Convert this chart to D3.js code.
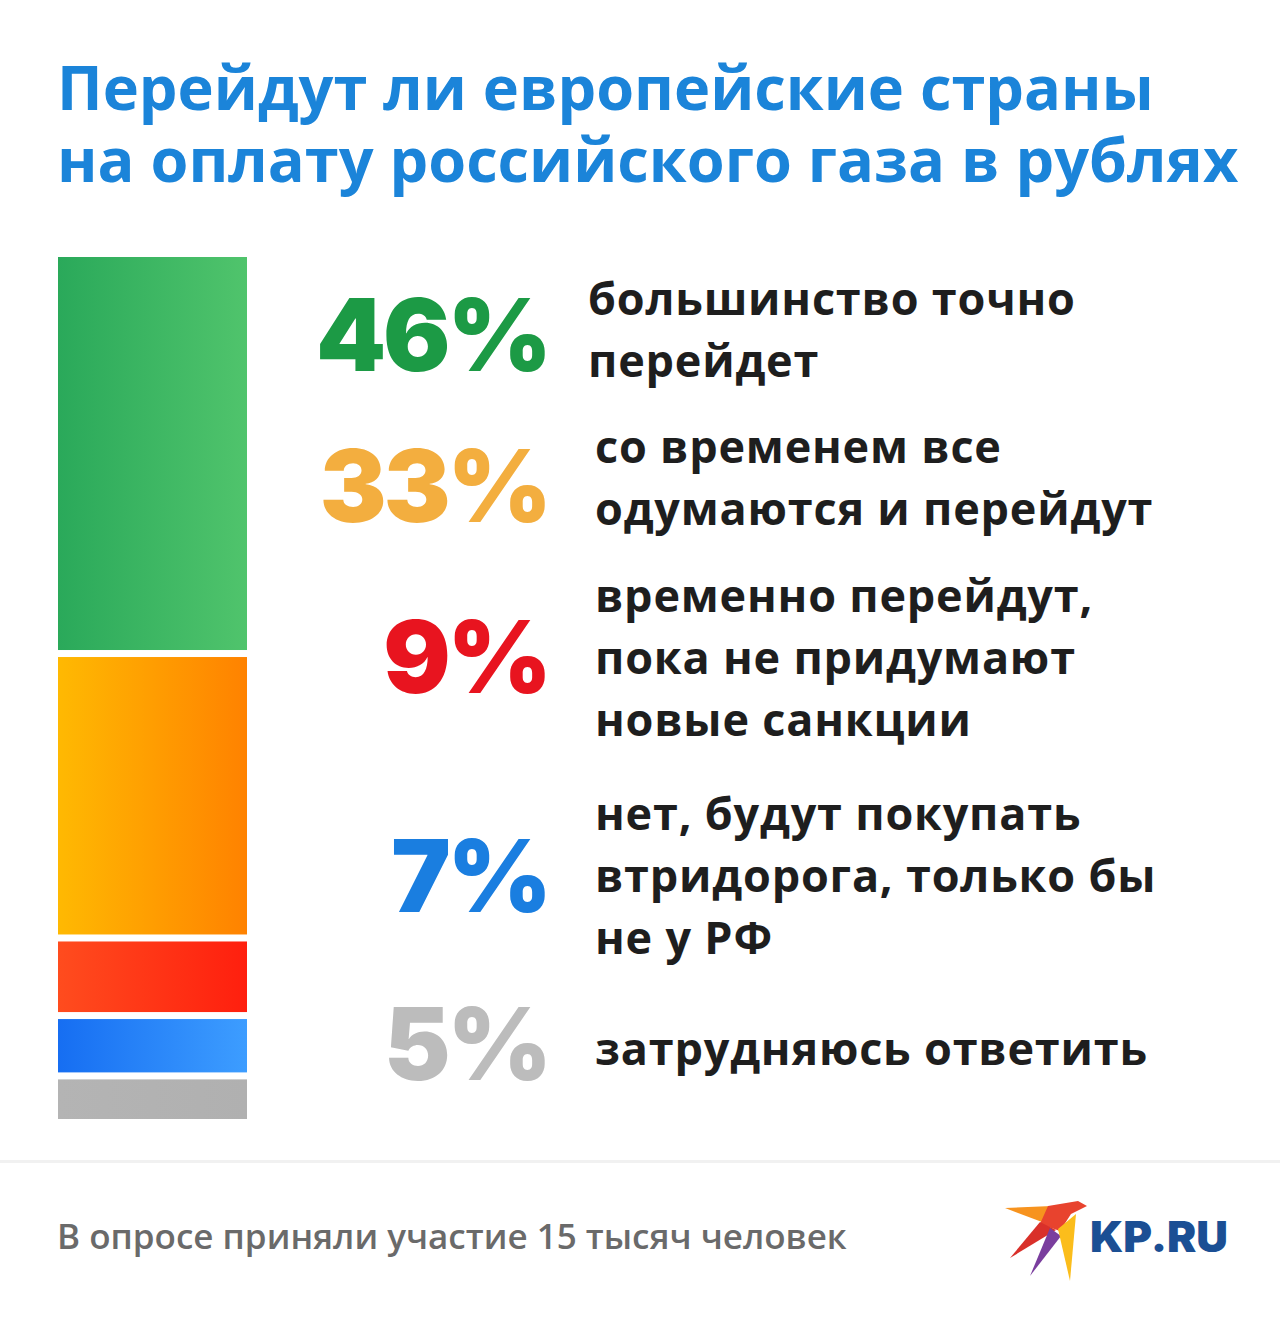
<!DOCTYPE html>
<html><head><meta charset="utf-8">
<script src="https://cdn.jsdelivr.net/npm/d3@7"></script>
<style>
html,body{margin:0;padding:0;background:#fff;}
svg{display:block;}
</style></head>
<body>
<script>
// ---- data ----
const categories = ["большинство точно перейдет","со временем все одумаются и перейдут","временно перейдут, пока не придумают новые санкции","нет, будут покупать втридорога, только бы не у РФ","затрудняюсь ответить"];
const labelLines = [
  ["большинство точно","перейдет"],
  ["со временем все","одумаются и перейдут"],
  ["временно перейдут,","пока не придумают","новые санкции"],
  ["нет, будут покупать","втридорога, только бы","не у РФ"],
  ["затрудняюсь ответить"]
];
const values = [46,33,9,7,5];
const titleLines = ["Перейдут ли европейские страны","на оплату российского газа в рублях"];
const footnote = "В опросе приняли участие 15 тысяч человек";
const logoText = "KP.RU";

// ---- styles ----
const pctColors = ["#1c9a45","#f3ae3f","#e8141f","#1a7ee0","#bcbcbc"];
const barGrad = [["#2aa95a","#50c46c"],["#ffb902","#ff8200"],["#ff4c1e","#ff1f0e"],["#166ef2","#3d9dff"],["#b4b4b4","#b0b0b0"]];
const pctBaselines = [371,522,693,912,1080];
const labelFirstBaselines = [315,463,612,830,1065];
const labelX = [588,595,595,595,595];

const W=1280,H=1322;
const svg=d3.select("body").append("svg").attr("width",W).attr("height",H);
svg.append("rect").attr("width",W).attr("height",H).attr("fill","#ffffff");

// title (one text element, two lines)
const title = svg.append("text")
  .attr("font-family","'Open Sans'").attr("font-weight",700)
  .attr("font-size",60).attr("fill","#1b84d9");
titleLines.forEach((t,i)=>{
  title.append("tspan").attr("x",57).attr("y",[110,182][i]).text(t);
});
const tw = title.select("tspan").node().getComputedTextLength();
title.attr("font-size",60*1097/tw);

// stacked bar
const y = d3.scaleLinear().domain([0,100]).range([257,1119]);
const stack = [];
let cum=0;
values.forEach((v,i)=>{stack.push({i,v,y0:cum,y1:cum+v});cum+=v;});
const defs=svg.append("defs");
barGrad.forEach((g,i)=>{
  const lg=defs.append("linearGradient").attr("id","g"+i).attr("x1","0").attr("x2","1").attr("y1","0").attr("y2","0");
  lg.append("stop").attr("offset","0").attr("stop-color",g[0]);
  lg.append("stop").attr("offset","1").attr("stop-color",g[1]);
});
const gap=3.5;
svg.append("g").selectAll("rect").data(stack).join("rect")
  .attr("x",58).attr("width",189)
  .attr("y",d=>y(d.y0)+(d.i===0?0:gap))
  .attr("height",d=>y(d.y1)-y(d.y0)-(d.i===0?gap:(d.i===stack.length-1?gap:2*gap)))
  .attr("fill",d=>"url(#g"+d.i+")");

// percentages
svg.append("g").selectAll("text").data(values).join("text")
  .attr("x",549).attr("y",(d,i)=>pctBaselines[i])
  .attr("text-anchor","end")
  .attr("font-family","Inter").attr("font-weight",900)
  .attr("font-size",100).attr("letter-spacing",-3)
  .attr("fill",(d,i)=>pctColors[i])
  .text(d=>d+"%");

// labels
const lg2=svg.append("g");
labelLines.forEach((lines,i)=>{
  lines.forEach((l,j)=>{
    lg2.append("text").attr("x",labelX[i]).attr("y",labelFirstBaselines[i]+j*62)
      .attr("font-family","'Open Sans'").attr("font-weight",700)
      .attr("font-size",45).attr("letter-spacing",0.8).attr("fill","#1e1e1e").text(l);
  });
});

// separator
svg.append("rect").attr("x",0).attr("y",1160).attr("width",W).attr("height",3).attr("fill","#f1f1f1");

// footnote
svg.append("text").attr("x",57).attr("y",1249)
  .attr("font-family","'Open Sans'").attr("font-weight",600)
  .attr("font-size",35).attr("fill","#6a6a6a").text(footnote);

// logo
const logo=svg.append("g");
const polys=[
  {c:"#f7931e",p:[[1005,1208],[1052,1206],[1068,1211],[1042,1222]]},
  {c:"#e8432e",p:[[1048,1206],[1078,1201],[1087,1206],[1071,1214],[1060,1231],[1040,1224]]},
  {c:"#d9302a",p:[[1040,1222],[1056,1230],[1010,1258]]},
  {c:"#7a3e9e",p:[[1050,1228],[1061,1236],[1030,1276]]},
  {c:"#fbbd1b",p:[[1058,1229],[1076,1214],[1070,1281]]}
];
logo.selectAll("polygon").data(polys).join("polygon")
  .attr("points",d=>d.p.map(q=>q.join(",")).join(" ")).attr("fill",d=>d.c);
logo.append("text").attr("x",1090).attr("y",1252)
  .attr("font-family","Inter").attr("font-weight",900)
  .attr("font-size",42).attr("fill","#1b4f94")
  .attr("textLength",138).attr("lengthAdjust","spacingAndGlyphs").text(logoText);
</script>
</body></html>
